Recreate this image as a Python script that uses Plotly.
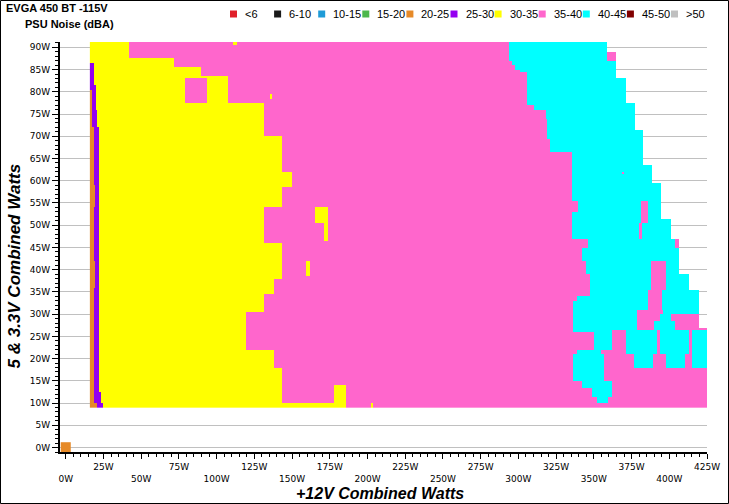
import numpy as np
import plotly.graph_objects as go

# ---------------- data ----------------
CATEGORIES = ["<6", "6-10", "10-15", "15-20", "20-25", "25-30",
              "30-35", "35-40", "40-45", "45-50", ">50"]
COLORS = ["#e0202a", "#1a1a1a", "#1e9bd7", "#4cb84c", "#e68a28", "#9400f0",
          "#ffff00", "#ff66cc", "#00ffff", "#800000", "#c0c0c0"]
ORANGE, PURPLE, YELLOW, PINK, CYAN = 4, 5, 6, 7, 8

X_TICKS = list(range(0, 426, 25))
Y_TICKS = list(range(0, 91, 5))

# right end (+12V W) of the measured area for bands of 5V&3.3V load: (y_lo, y_hi, x_end)
EXTENT_BANDS = [
    (9.0, 27.0, 425.5), (27.0, 35.3, 419.5), (35.3, 39.1, 412.9),
    (39.1, 47.2, 406.7), (47.2, 51.3, 400.8), (51.3, 59.3, 394.7),
    (59.3, 63.3, 388.6), (63.3, 71.3, 382.6), (71.3, 76.6, 376.8),
    (76.6, 77.3, 377.0), (77.3, 83.2, 370.9), (83.2, 89.2, 364.3),
    (89.2, 91.5, 358.7),
]
MEASURE_START = 16.0

# end of the 30-35 dBA zone: (y_lo, y_hi, x_end)
YELLOW_EDGE = [
    (9.0, 10.0, 185.7), (10.0, 17.9, 143.2), (17.9, 21.9, 137.9),
    (21.9, 30.3, 119.6), (30.3, 34.4, 131.5), (34.4, 38.2, 137.9),
    (38.2, 46.0, 143.2), (46.0, 54.1, 131.5), (54.1, 58.3, 143.2),
    (58.3, 62.0, 149.9), (62.0, 69.9, 143.2), (69.9, 77.6, 131.5),
    (77.6, 83.7, 107.4), (83.7, 85.4, 89.7), (85.4, 87.5, 71.8),
    (87.5, 91.5, 42.0),
]

# 20-25 / 25-30 dBA strips at light load: (y_lo, y_hi, orange_end, purple_end)
STRIPS = [
    (9.0, 10.0, 20.6, 25.2), (10.0, 12.3, 18.8, 23.4), (12.3, 36.2, 18.8, 22.0),
    (36.2, 42.2, 19.4, 22.0), (42.2, 54.2, 18.8, 22.0), (54.2, 59.1, 19.4, 22.0),
    (59.1, 71.9, 18.8, 22.0), (71.9, 76.0, 17.3, 20.6), (76.0, 80.5, 17.3, 20.0),
    (80.5, 81.6, 16.0, 19.9), (81.6, 85.4, 16.0, 19.0), (85.4, 86.6, 16.0, 18.3),
]

# 40-45 dBA zones: (y_lo, y_hi, x_start, x_end)
CYAN_ZONES = [
    (87.0, 91.5, 293.5, 358.7), (86.1, 87.0, 295.3, 364.3), (85.2, 86.1, 297.9, 364.3),
    (84.5, 85.2, 301.2, 364.3), (83.2, 84.5, 305.7, 364.3), (77.3, 83.2, 305.7, 370.9),
    (76.8, 77.3, 305.7, 376.8), (75.9, 76.8, 310.1, 376.8), (73.8, 75.9, 317.8, 376.8),
    (71.3, 73.8, 319.0, 376.8), (69.7, 71.3, 319.0, 382.6), (66.7, 69.7, 321.2, 382.6),
    (63.3, 66.7, 335.5, 382.6), (59.3, 63.3, 335.5, 388.6), (55.5, 59.3, 335.5, 394.7),
    (53.2, 55.5, 339.6, 394.7), (51.3, 53.2, 335.5, 394.7), (50.3, 51.3, 335.5, 400.8),
    (47.2, 50.3, 335.5, 400.8), (45.1, 47.2, 345.9, 404.1), (42.1, 45.1, 342.2, 406.7),
    (39.1, 42.1, 344.4, 387.5), (39.1, 42.1, 397.5, 406.7),
    (35.3, 39.1, 347.3, 387.5), (35.3, 39.1, 397.5, 412.9),
    (34.2, 35.3, 347.3, 385.3), (34.2, 35.3, 395.2, 419.5),
    (33.0, 34.2, 338.9, 385.3), (33.0, 34.2, 395.2, 419.5),
    (31.2, 33.0, 336.1, 385.3), (31.2, 33.0, 395.2, 419.5),
    (30.0, 31.2, 336.1, 378.6), (30.0, 31.2, 396.0, 419.5),
    (28.5, 30.0, 336.1, 378.6), (28.5, 30.0, 394.0, 400.8),
    (26.6, 28.5, 336.1, 378.6), (26.6, 28.5, 389.7, 404.1),
    (26.0, 26.6, 336.1, 352.0),
    (22.2, 26.6, 349.9, 362.1),
    (21.0, 26.3, 370.9, 391.9), (18.0, 21.0, 376.3, 389.0),
    (21.0, 26.6, 394.0, 412.9), (18.0, 21.0, 397.5, 410.7),
    (18.0, 26.3, 415.1, 425.5),
    (21.0, 22.2, 338.9, 354.3), (15.0, 21.0, 336.1, 356.5),
    (13.5, 15.0, 342.2, 362.1), (11.3, 13.5, 348.8, 362.1),
    (10.2, 11.3, 352.1, 358.8),
]

# small islands: (category, x_start, x_end, y_lo, y_hi)
ISLANDS = [
    (PINK, 79.0, 93.5, 77.7, 82.8),
    (YELLOW, 111.0, 113.5, 90.5, 91.5),
    (YELLOW, 135.5, 136.8, 78.7, 79.7),
    (YELLOW, 165.0, 174.0, 50.3, 53.9),
    (YELLOW, 171.0, 174.0, 46.3, 50.3),
    (YELLOW, 159.0, 162.0, 38.3, 42.0),
    (YELLOW, 177.5, 185.7, 10.0, 14.1),
    (YELLOW, 202.0, 203.5, 9.0, 10.0),
    (PINK, 381.3, 385.3, 50.5, 55.4),
    (PINK, 380.0, 382.0, 47.2, 50.5),
    (PINK, 368.7, 369.8, 61.4, 62.2),
]

# idle point (0 W / 0 W)
IDLE_X = [0.0]
IDLE_Y = [0.0]
IDLE_CAT = [ORANGE]

# ---------------- raster ----------------
STEP = 0.5
X_START, X_END = 16.0, 425.5
Y_START, Y_END = 9.0, 91.5
nx = int(round((X_END - X_START) / STEP))
ny = int(round((Y_END - Y_START) / STEP))
xc = X_START + STEP * (np.arange(nx) + 0.5)
yc = Y_START + STEP * (np.arange(ny) + 0.5)
z = np.full((ny, nx), np.nan)


def paint(x0, x1, y0, y1, cat):
    cols = (xc >= x0) & (xc < x1)
    rows = (yc >= y0) & (yc < y1)
    z[np.ix_(rows, cols)] = cat


for y0, y1, xe in EXTENT_BANDS:
    paint(MEASURE_START, xe, y0, y1, PINK)
for y0, y1, xe in YELLOW_EDGE:
    paint(MEASURE_START, xe, y0, y1, YELLOW)
for y0, y1, oe, pe in STRIPS:
    paint(MEASURE_START, oe, y0, y1, ORANGE)
    paint(oe, pe, y0, y1, PURPLE)
for y0, y1, xs, xe in CYAN_ZONES:
    paint(xs, xe, y0, y1, CYAN)
for cat, xs, xe, y0, y1 in ISLANDS:
    paint(xs, xe, y0, y1, cat)

zl = [[None if np.isnan(v) else int(v) for v in row] for row in z]

n = len(CATEGORIES)
cscale = []
for i, c in enumerate(COLORS):
    cscale.append([i / n, c])
    cscale.append([(i + 1) / n, c])

fig = go.Figure()
fig.add_trace(go.Heatmap(z=zl, x0=X_START + STEP / 2, dx=STEP, y0=Y_START + STEP / 2, dy=STEP,
                         colorscale=cscale, zmin=-0.5, zmax=n - 0.5, showscale=False,
                         hoverinfo="skip", showlegend=False))
fig.add_trace(go.Heatmap(z=[IDLE_CAT], x0=IDLE_X[0], dx=6.6, y0=IDLE_Y[0], dy=2.4,
                         colorscale=cscale, zmin=-0.5, zmax=n - 0.5, showscale=False,
                         hoverinfo="skip", showlegend=False))

xt_text = [(f"{v}W" if (v // 25) % 2 == 1 else f" <br>{v}W") for v in X_TICKS]
yt_text = [f"{v}W" for v in Y_TICKS]

tickfont = dict(family="DejaVu Sans, Verdana", size=9, color="#000")
L, R, T, B = 60, 22, 42, 52
PW, PH = 729 - L - R, 504 - T - B


def px(x):
    return (x - L) / PW


def py(y):
    return (504 - B - y) / PH


annotations = [
    dict(text="<b>EVGA 450 BT -115V</b>", xref="paper", yref="paper", x=px(4), y=py(8),
         xanchor="left", yanchor="middle", showarrow=False,
         font=dict(family="Liberation Sans, Arial", size=11, color="#000")),
    dict(text="<b>PSU Noise (dBA)</b>", xref="paper", yref="paper", x=px(23), y=py(24),
         xanchor="left", yanchor="middle", showarrow=False,
         font=dict(family="Liberation Sans, Arial", size=11, color="#000")),
    dict(text="<b><i>+12V Combined Watts</i></b>", xref="paper", yref="paper", x=px(380), y=py(493),
         xanchor="center", yanchor="middle", showarrow=False,
         font=dict(family="Liberation Sans, Arial", size=16, color="#000")),
    dict(text="<b><i>5 &amp; 3.3V Combined Watts</i></b>", xref="paper", yref="paper", x=px(13.5), y=py(266),
         xanchor="center", yanchor="middle", showarrow=False, textangle=-90,
         font=dict(family="Liberation Sans, Arial", size=17, color="#000")),
]
shapes = [dict(type="rect", xref="paper", yref="paper",
               x0=px(0.5), x1=px(728.5), y0=py(503.5), y1=py(0.5),
               line=dict(color="black", width=1), fillcolor="rgba(0,0,0,0)", layer="above")]

# legend (key) laid out as in the reference
LEG_LEFT, LEG_STEP, LEG_Y = 230.0, 44.1, 14.0
for i, (lab, col) in enumerate(zip(CATEGORIES, COLORS)):
    x0 = LEG_LEFT + LEG_STEP * i
    shapes.append(dict(type="rect", xref="paper", yref="paper",
                       x0=px(x0), x1=px(x0 + 7), y0=py(LEG_Y + 3.5), y1=py(LEG_Y - 3.5),
                       line=dict(width=0), fillcolor=col, layer="above"))
    annotations.append(dict(text=lab.replace("<", "&lt;").replace(">", "&gt;"),
                            xref="paper", yref="paper", x=px(x0 + 13), y=py(LEG_Y),
                            xanchor="left", yanchor="middle", showarrow=False,
                            font=dict(family="Liberation Sans, Arial", size=11, color="#000")))

fig.update_layout(
    width=729, height=504,
    margin=dict(l=L, r=R, t=T, b=B, autoexpand=False),
    paper_bgcolor="white", plot_bgcolor="white",
    showlegend=False,
    xaxis=dict(range=[-3.8, 425], showgrid=False, zeroline=False,
               showline=True, linewidth=2, linecolor="black",
               tickmode="array", tickvals=X_TICKS, ticktext=xt_text,
               ticks="outside", ticklen=5, tickcolor="black", tickfont=tickfont,
               minor=dict(dtick=5, tick0=0, ticks="outside", ticklen=3, tickcolor="black", showgrid=False)),
    yaxis=dict(range=[-1, 91.2], showgrid=True, gridcolor="#c0c0c0", gridwidth=1,
               zeroline=False, showline=True, linewidth=2, linecolor="black",
               tickmode="array", tickvals=Y_TICKS, ticktext=yt_text,
               ticks="outside", ticklen=6, tickcolor="black", tickfont=tickfont,
               minor=dict(dtick=1, tick0=0, ticks="outside", ticklen=3, tickcolor="black", showgrid=False)),
    annotations=annotations,
    shapes=shapes,
)

fig.write_html("out.html", config={"displayModeBar": False, "staticPlot": True},
               post_script="document.body.style.margin='0px';document.body.style.overflow='hidden';")
